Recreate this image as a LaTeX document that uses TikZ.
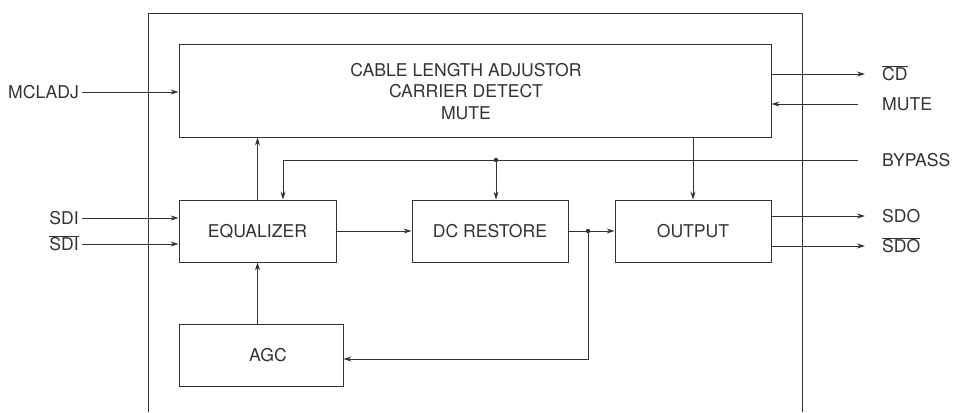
\documentclass[tikz,border=0pt]{standalone}
\usepackage{fontspec}
\setmainfont{TeX Gyre Heros}
\usetikzlibrary{arrows.meta}
\definecolor{ink}{gray}{0.2}
\tikzset{
  blk/.style={draw, line width=0.9bp, minimum height=62bp, inner sep=0pt, text height=12.5bp, text depth=0pt},
  sig/.style={inner sep=3bp, text height=12.5bp, text depth=0pt},
  wire/.style={line width=0.9bp},
  arr/.style={wire, -{Stealth[length=8bp,width=5bp]}},
}
\begin{document}
\begin{tikzpicture}[x=1bp,y=-1bp,color=ink,font=\fontsize{17.6bp}{21.5bp}\selectfont]
\useasboundingbox (0,0) rectangle (953,412);
% chip outline
\draw[wire] (148,412) -- (148,13) -- (802,13) -- (802,412);
% blocks
\node[draw, line width=0.9bp, minimum width=592bp, minimum height=93bp] (adj) at (475,90.5) {};
\node[align=center, inner sep=0pt] (adjtxt) at (466,91.5) {CABLE LENGTH ADJUSTOR\\CARRIER DETECT\\MUTE};
\node[blk, minimum width=157bp] (eq) at (257.5,231) {EQUALIZER};
\node[blk, minimum width=156bp] (dcr) at (490,231) {DC RESTORE};
\node[blk, minimum width=156bp] (outp) at (693,231) {OUTPUT};
\node[blk, minimum width=164bp] (agc) at (261,355.5) {\hspace*{14bp}AGC};
% pins
\node[sig, anchor=east] (mcl) at (82,92) {MCLADJ};
\node[sig, anchor=east] (sdi) at (82,218) {SDI};
\node[sig, anchor=east] (sdin) at (82,244) {$\overline{\hbox{SDI}}$};
\node[sig, anchor=west] (cd) at (879,74) {$\overline{\hbox{CD}}$};
\node[sig, anchor=west] (mute) at (879,104) {MUTE};
\node[sig, anchor=west] (byp) at (879,160) {BYPASS};
\node[sig, anchor=west] (sdo) at (879,216) {SDO};
\node[sig, anchor=west] (sdon) at (879,246) {$\overline{\hbox{SDO}}$};
% junctions
\coordinate (byeq) at (283,160);
\coordinate (j1) at (496,160);
\coordinate (j2) at (588,231);
\fill (j1) circle (2.2bp);
\fill (j2) circle (2.2bp);
% inputs
\draw[arr] (mcl.east) -- (adj.west |- mcl);
\draw[arr] (sdi.east) -- (eq.west |- sdi);
\draw[arr] (sdin.east) -- (eq.west |- sdin);
\draw[arr, shorten <=21bp] (mute.west) -- (adj.east |- mute);
% outputs
\draw[arr, shorten >=14bp] (adj.east |- cd) -- (cd.west);
\draw[arr, shorten >=14bp] (outp.east |- sdo) -- (sdo.west);
\draw[arr, shorten >=14bp] (outp.east |- sdon) -- (sdon.west);
% bypass
\draw[arr, shorten <=21bp] (byp.west) -- (byeq) -- (byeq |- eq.north);
\draw[arr] (j1) -- (j1 |- dcr.north);
% internal paths
\draw[arr] (eq.north) -- (eq.north |- adj.south);
\draw[arr] (outp.north |- adj.south) -- (outp.north);
\draw[arr] (eq.east) -- (dcr.west);
\draw[arr] (dcr.east) -- (outp.west);
\draw[arr] (j2) -- (j2 |- 0,359) -- (agc.east |- 0,359);
\draw[arr] (eq.south |- agc.north) -- (eq.south);
\end{tikzpicture}
\end{document}
